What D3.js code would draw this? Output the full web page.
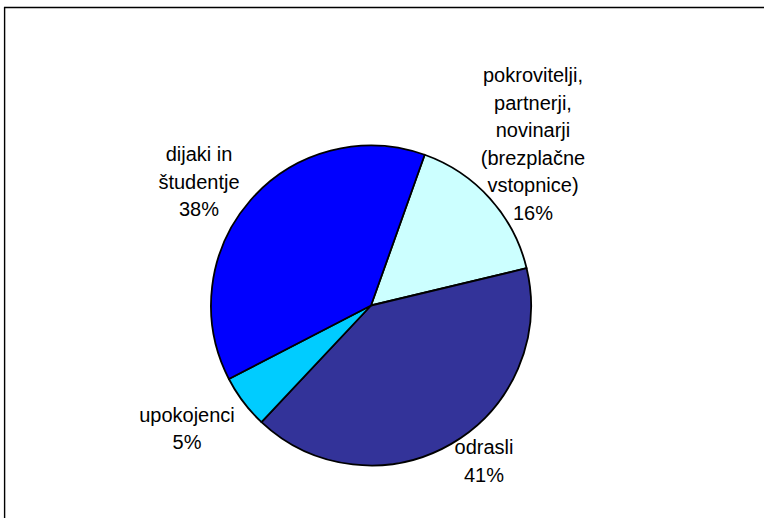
<!DOCTYPE html>
<html>
<head>
<meta charset="utf-8">
<script src="https://cdn.jsdelivr.net/npm/d3@7/dist/d3.min.js"></script>
<style>
  html, body { margin: 0; padding: 0; background: #fff; }
  svg { display: block; }
</style>
</head>
<body>
<svg id="chart" width="764" height="518"></svg>
<script>
// ---- data ----
const categories = ["pokrovitelji, partnerji, novinarji (brezplačne vstopnice)", "odrasli", "upokojenci", "dijaki in študentje"];
const labelLines = [
  ["pokrovitelji,", "partnerji,", "novinarji", "(brezplačne", "vstopnice)"],
  ["odrasli"],
  ["upokojenci"],
  ["dijaki in", "študentje"]
];
const values = [15.8, 40.7, 5.4, 38.0];
const colors = ["#CCFFFF", "#333399", "#00CCFF", "#0000FF"];

// ---- layout ----
const W = 764, H = 518;
const cx = 371, cy = 305.5, R = 160;
const startDeg = 19.6;
// label block centre x and first baseline, relative to pie centre
const labelPos = [
  { dx: 162, dy: -223.5 },
  { dx: 113, dy: 148.5 },
  { dx: -184, dy: 116 },
  { dx: -172, dy: -144.5 }
];
const lineH = 27.5;

const svg = d3.select("#chart");

// frame (top and left edges visible)
svg.append("line").attr("x1", 4).attr("y1", 7.5).attr("x2", W).attr("y2", 7.5)
  .attr("stroke", "#000").attr("stroke-width", 1.6);
svg.append("line").attr("x1", 4.6).attr("y1", 7).attr("x2", 4.6).attr("y2", H)
  .attr("stroke", "#000").attr("stroke-width", 1.4);

const total = d3.sum(values);
const pie = d3.pie().sort(null).value(d => d)
  .startAngle(startDeg * Math.PI / 180)
  .endAngle(startDeg * Math.PI / 180 + 2 * Math.PI);
const arcs = pie(values);
const arc = d3.arc().innerRadius(0).outerRadius(R);

const g = svg.append("g").attr("transform", `translate(${cx},${cy})`);
g.selectAll("path").data(arcs).join("path")
  .attr("d", arc)
  .attr("fill", (d, i) => colors[i])
  .attr("stroke", "#000")
  .attr("stroke-width", 1.8)
  .attr("stroke-linejoin", "round");

const labels = g.selectAll("text.lbl").data(arcs).join("text")
  .attr("class", "lbl")
  .attr("text-anchor", "middle")
  .attr("font-family", "Liberation Sans, Arial, sans-serif")
  .attr("font-size", 20)
  .attr("fill", "#000");

labels.each(function (d, i) {
  const t = d3.select(this);
  const lines = labelLines[i].concat([Math.round(d.value / total * 100) + "%"]);
  lines.forEach((ln, k) => {
    t.append("tspan")
      .attr("x", labelPos[i].dx)
      .attr("y", labelPos[i].dy + k * lineH)
      .text(ln);
  });
});
</script>
</body>
</html>
